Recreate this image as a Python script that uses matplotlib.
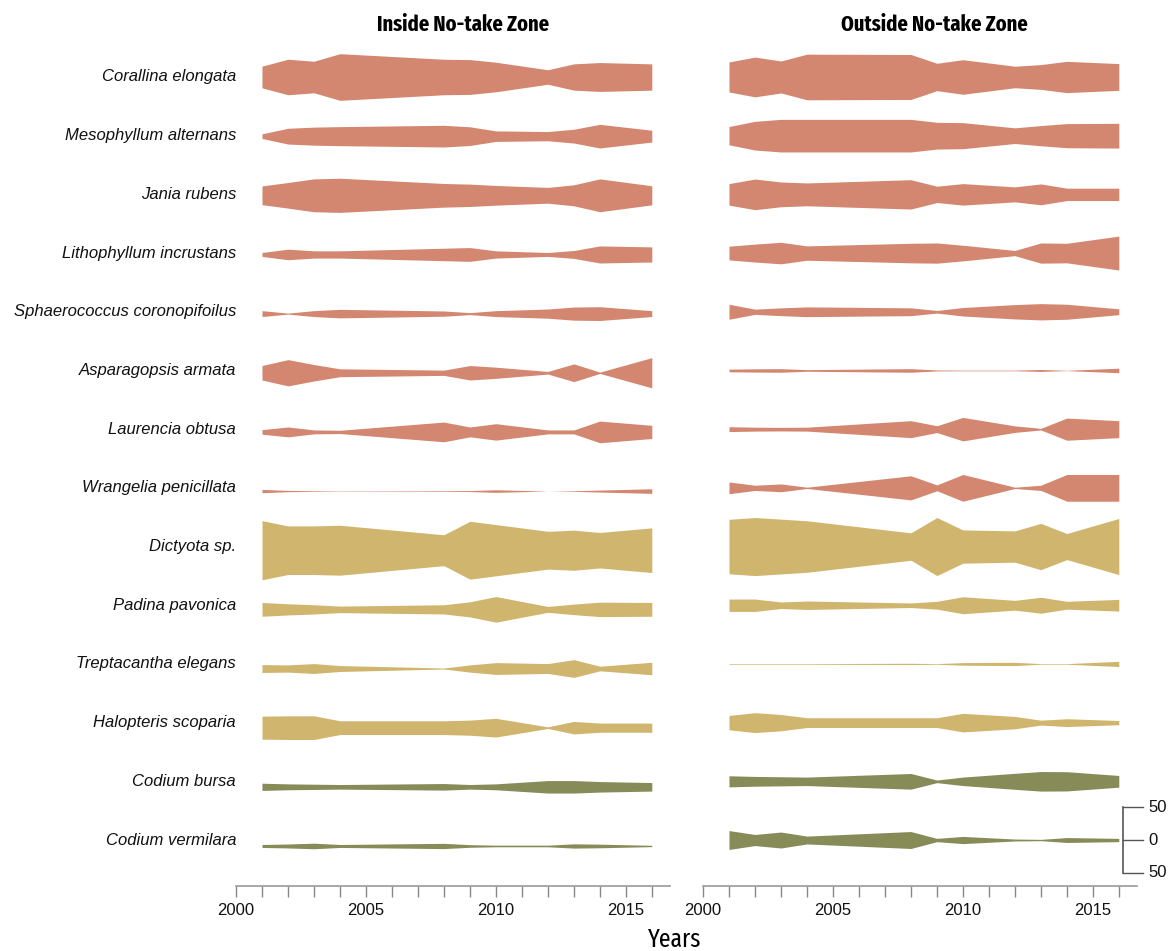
import matplotlib
matplotlib.use("Agg")
import matplotlib.pyplot as plt
from matplotlib import font_manager as fm
from matplotlib.transforms import blended_transform_factory

plt.rcParams["font.family"] = "Liberation Sans"

# sampling years (same for both zones)
years = [2001, 2002, 2003, 2004, 2008, 2009, 2010, 2012, 2013, 2014, 2016]

species = ["Corallina elongata", "Mesophyllum alternans", "Jania rubens",
           "Lithophyllum incrustans", "Sphaerococcus coronopifoilus",
           "Asparagopsis armata", "Laurencia obtusa", "Wrangelia penicillata",
           "Dictyota sp.", "Padina pavonica", "Treptacantha elegans",
           "Halopteris scoparia", "Codium bursa", "Codium vermilara"]

groups = ["red"] * 8 + ["brown"] * 4 + ["green"] * 2
group_colors = {"red": "#d38770", "brown": "#d0b56e", "green": "#868b58"}

# cover per species and year, inside the reserve
inside = [
    [33, 54, 48, 71, 54, 53, 45, 22, 40, 44, 40],
    [7, 24, 27.5, 29, 33, 28.5, 16, 14, 21, 36, 18],
    [28.5, 39, 50, 52, 36, 34, 30, 24, 32, 50, 29],
    [6, 16, 11, 11, 19, 21, 11, 6, 12, 26, 23],
    [9, 1.5, 9, 13, 8, 3, 9, 14, 20, 21, 9],
    [22, 40, 25, 12, 8, 22, 17, 4, 27, 2, 46],
    [7, 15, 6, 5, 30, 15, 25, 6, 6, 33, 20],
    [5, 2, 1, 0.5, 1, 1.5, 4, 0, 1, 3, 7],
    [90, 74, 74, 76, 47, 88, 78, 57.5, 61, 54, 68],
    [21, 17, 14, 10, 14, 23, 39, 9, 16, 22, 21],
    [12, 11, 15, 9, 1.5, 11, 18, 15, 27, 7, 19],
    [35, 36, 36, 21, 21, 23, 28.5, 2.5, 19, 14, 14],
    [11, 9, 8, 7, 10, 7, 9, 19, 19, 16, 13],
    [4.5, 6, 8.5, 4.5, 8, 4, 2.5, 2.5, 6.5, 5.5, 2],
]

# cover per species and year, outside the reserve
outside = [
    [46, 61, 49, 70, 69, 42, 53, 33, 38, 48, 41],
    [28, 44, 50, 50, 50, 41, 40, 24, 31, 37, 38],
    [33, 47, 38, 35, 45, 25, 33, 23, 32, 19, 19],
    [21, 27.5, 33, 22, 30, 31, 24, 8, 31, 30, 52],
    [23, 8, 12, 15, 12, 4, 13, 22, 25, 23, 9],
    [4, 5, 5.5, 2.5, 5.5, 1.5, 1, 1, 3, 0.5, 7],
    [7.5, 6, 5.5, 6, 26, 10.5, 36, 10, 2.5, 34, 26],
    [18, 8, 12, 2, 37, 9, 41, 2, 8, 41, 41],
    [83.5, 89, 84, 79, 42, 89, 51, 48, 71, 40, 86],
    [19, 19, 10, 13, 7, 12, 26, 15, 24.5, 12, 18],
    [1, 1, 1, 1, 2, 1, 4, 5, 1, 1, 8],
    [22, 30.5, 25, 15, 15, 15, 28.5, 19, 7.5, 12, 6.5],
    [17, 15, 14, 13, 24, 4, 13, 24.5, 30, 29.5, 18],
    [29, 17, 24.5, 12, 26, 5, 11, 3, 2, 7.5, 5],
]

ROW_GAP = 90  # vertical distance between species rows, in cover units


def condensed_font(bold):
    # narrowest installed condensed face with the right weight
    best = None
    for f in fm.fontManager.ttflist:
        if f.stretch != "condensed" or f.style != "normal":
            continue
        w = f.weight if isinstance(f.weight, int) else fm.weight_dict.get(f.weight, 400)
        fn = f.fname.lower()
        narrow = 0 if "extracondensed" in fn else (2 if "semicondensed" in fn else 1)
        score = (abs(w - (700 if bold else 400)), narrow)
        if best is None or score < best[0]:
            best = (score, f.fname)
    if best:
        return fm.FontProperties(fname=best[1])
    return fm.FontProperties(family="Liberation Sans",
                             weight="bold" if bold else "normal")


W, H = 1174, 951
fig = plt.figure(figsize=(W / 100, H / 100), dpi=100)

ax_bottom = (H - 886) / H
ax_height = (886 - 40) / H
ax_width = 434 / W
axL = fig.add_axes([236 / W, ax_bottom, ax_width, ax_height])
axR = fig.add_axes([703 / W, ax_bottom, ax_width, ax_height])

n = len(species)
for ax, data, ylim in [(axL, inside, (-60.9, 1226.3)), (axR, outside, (-70.5, 1226.7))]:
    for i, (name, vals) in enumerate(zip(species, data)):
        row = (n - 1 - i) * ROW_GAP
        lo = [row - v / 2 for v in vals]
        hi = [row + v / 2 for v in vals]
        ax.fill_between(years, lo, hi, color=group_colors[groups[i]], lw=0)
    ax.set_xlim(2000, 2016.7)
    ax.set_ylim(*ylim)
    for s in ["top", "right", "left"]:
        ax.spines[s].set_visible(False)
    ax.spines["bottom"].set_color("#999999")
    ax.spines["bottom"].set_linewidth(1.2)
    ax.set_yticks([])
    ax.set_xticks(range(2000, 2017))
    ax.set_xticklabels([str(y) if y % 5 == 0 else "" for y in range(2000, 2017)],
                       fontsize=12, color="#111111")
    ax.tick_params(axis="x", direction="out", length=8, width=1,
                   color="#888888", pad=4)
    ax.patch.set_alpha(0)

# species names on the left, aligned with the rows
lab_tr = blended_transform_factory(fig.transFigure, axR.transData)
for i, name in enumerate(species):
    row = (n - 1 - i) * ROW_GAP
    fig.text(236 / W, row, name, transform=lab_tr, ha="right", va="center",
             fontsize=12, style="italic", color="#111111")

# scale bar for the band widths
sx0, sx1 = 2016.15, 2016.95
axR.plot([sx0, sx0], [-50, 50], color="#555555", lw=1.2, clip_on=False)
for yv, txt in [(50, "50"), (0, "0"), (-50, "50")]:
    axR.plot([sx0, sx1], [yv, yv], color="#555555", lw=1, clip_on=False)
    axR.text(sx1 + 0.2, yv, txt, ha="left", va="center", fontsize=12,
             color="#111111", clip_on=False)

title_fp = condensed_font(True)
title_fp.set_size(16)
fig.text(463 / W, 1 - 25 / H, "Inside No-take Zone", ha="center", va="center",
         fontproperties=title_fp)
fig.text(934 / W, 1 - 25 / H, "Outside No-take Zone", ha="center", va="center",
         fontproperties=title_fp)
years_fp = condensed_font(False)
years_fp.set_size(18.5)
fig.text(675 / W, 1 - 947 / H, "Years", ha="center", va="baseline",
         fontproperties=years_fp)

fig.savefig("out.png", dpi=100)
